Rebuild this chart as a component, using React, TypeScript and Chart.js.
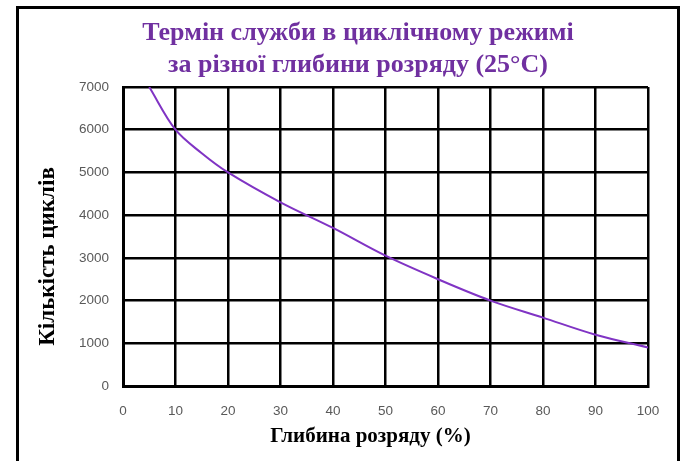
import React, { useEffect, useRef } from "react";
import { Chart, registerables } from "chart.js";

Chart.register(...registerables);

const depthPercent = [5, 10, 15, 20, 30, 40, 50, 60, 70, 80, 90, 100];
const cycleCounts = [7000, 6000, 5450, 5000, 4300, 3700, 3050, 2500, 2000, 1600, 1200, 900];
const titleLines = ["Термін служби в циклічному режимі", "за різної глибини розряду (25°C)"];
const xAxisTitle = "Глибина розряду (%)";
const yAxisTitle = "Кількість циклів";

const axisTitlesPlugin = {
  id: "axisTitles",
  afterDraw(chart: any) {
    const { ctx, chartArea } = chart;
    ctx.save();
    ctx.fillStyle = "#000000";
    ctx.font = "bold 21px 'Liberation Serif'";
    ctx.textAlign = "center";
    ctx.textBaseline = "middle";
    ctx.fillText(xAxisTitle, (chartArea.left + chartArea.right) / 2 - 15, 437);
    ctx.translate(48, (chartArea.top + chartArea.bottom) / 2 + 20);
    ctx.rotate(-Math.PI / 2);
    ctx.font = "bold 23px 'Liberation Serif'";
    ctx.fillText(yAxisTitle, 0, 0);
    ctx.restore();
  },
};

export default function App() {
  const canvasRef = useRef<HTMLCanvasElement | null>(null);

  useEffect(() => {
    document.body.style.margin = "0";
    const canvas = canvasRef.current;
    if (!canvas) return;
    const chart = new Chart(canvas, {
      type: "line",
      data: {
        datasets: [
          {
            data: depthPercent.map((x, i) => ({ x, y: cycleCounts[i] })),
            borderColor: "#8034C4",
            borderWidth: 2,
            pointRadius: 0,
            tension: 0.35,
            fill: false,
          },
        ],
      },
      options: {
        responsive: false,
        animation: false,
        layout: { padding: { left: 68, right: 40, top: 0, bottom: 0 } },
        plugins: {
          legend: { display: false },
          tooltip: { enabled: false },
          title: {
            display: true,
            text: titleLines,
            color: "#7030A0",
            font: { family: "'Liberation Serif'", size: 26, weight: "bold", lineHeight: 32 / 26 },
            padding: { top: 17, bottom: 6 },
          },
        },
        scales: {
          x: {
            type: "linear",
            min: 0,
            max: 100,
            afterFit: (scale: any) => {
              scale.height = 75;
            },
            ticks: {
              stepSize: 10,
              color: "#595959",
              padding: 17,
              font: { family: "'Liberation Sans'", size: 13.5 },
              callback: (v: any) => String(v),
            },
            grid: { color: "#000000", lineWidth: 2.5, drawTicks: false },
            border: { display: true, color: "#000000", width: 3 },
          },
          y: {
            min: 0,
            max: 7000,
            afterFit: (scale: any) => {
              scale.width = 55;
            },
            ticks: {
              stepSize: 1000,
              color: "#595959",
              padding: 14,
              font: { family: "'Liberation Sans'", size: 13.5 },
              callback: (v: any) => String(v),
            },
            grid: { color: "#000000", lineWidth: 2.5, drawTicks: false },
            border: { display: true, color: "#000000", width: 3 },
          },
        },
      },
      plugins: [axisTitlesPlugin],
    });
    return () => chart.destroy();
  }, []);

  return (
    <div style={{ position: "fixed", left: 0, top: 0, width: 688, height: 461, background: "#ffffff", overflow: "hidden" }}>
      <div
        style={{
          position: "absolute",
          left: 16,
          top: 6,
          width: 664,
          height: 480,
          border: "3px solid #000000",
          boxSizing: "border-box",
        }}
      />
      <canvas ref={canvasRef} width={688} height={461} style={{ position: "absolute", left: 0, top: 0 }} />
    </div>
  );
}
